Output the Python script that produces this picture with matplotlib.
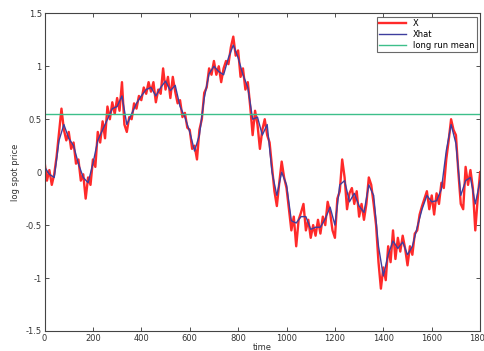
import numpy as np
import matplotlib
matplotlib.use("Agg")
from matplotlib import pyplot as plt

#------------------------------------------------------------------------------------------------
# observed log spot price, sampled every 10 time steps
t_x = list(range(0, 1801, 10))
X = [0.10, -0.08, 0.02, -0.12, -0.02, 0.15, 0.38, 0.60, 0.40, 0.30,
     0.38, 0.22, 0.28, 0.08, 0.12, -0.08, -0.02, -0.25, -0.05, -0.12,
     0.12, 0.05, 0.38, 0.28, 0.48, 0.32, 0.62, 0.50, 0.66, 0.55,
     0.70, 0.58, 0.85, 0.45, 0.38, 0.52, 0.50, 0.65, 0.60, 0.72,
     0.68, 0.80, 0.74, 0.85, 0.76, 0.85, 0.66, 0.78, 0.74, 0.98,
     0.78, 0.90, 0.70, 0.90, 0.76, 0.65, 0.68, 0.52, 0.56, 0.42,
     0.40, 0.22, 0.25, 0.12, 0.40, 0.50, 0.75, 0.80, 0.98, 0.92,
     1.05, 0.92, 1.00, 0.85, 0.98, 1.05, 1.02, 1.18, 1.28, 1.10,
     1.15, 0.90, 0.98, 0.78, 0.85, 0.62, 0.35, 0.58, 0.45, 0.22,
     0.40, 0.50, 0.35, 0.28, 0.05, -0.18, -0.32, -0.10, 0.10, -0.05,
     -0.15, -0.35, -0.55, -0.42, -0.70, -0.45, -0.38, -0.30, -0.55, -0.45,
     -0.62, -0.50, -0.60, -0.45, -0.58, -0.42, -0.50, -0.28, -0.38, -0.55,
     -0.62, -0.25, -0.18, 0.12, -0.05, -0.35, -0.20, -0.15, -0.30, -0.18,
     -0.42, -0.30, -0.45, -0.30, -0.05, -0.12, -0.30, -0.50, -0.85, -1.10,
     -0.90, -1.02, -0.70, -0.85, -0.55, -0.82, -0.62, -0.75, -0.60, -0.72,
     -0.88, -0.70, -0.78, -0.58, -0.55, -0.40, -0.32, -0.25, -0.18, -0.35,
     -0.22, -0.40, -0.20, -0.30, -0.10, -0.15, 0.12, 0.30, 0.50, 0.40,
     0.35, 0.00, -0.30, -0.35, 0.05, -0.12, 0.02, -0.15, -0.55, -0.25,
     0.00]

# filtered estimate, every 20 time steps
t_hat = list(range(0, 1801, 20))
Xhat = [0.05, -0.02, -0.05, 0.30, 0.45, 0.32, 0.25, 0.08, -0.05, -0.10,
        0.08, 0.30, 0.40, 0.50, 0.60, 0.62, 0.72, 0.45, 0.55, 0.65,
        0.72, 0.78, 0.80, 0.72, 0.80, 0.86, 0.77, 0.82, 0.62, 0.52,
        0.38, 0.20, 0.35, 0.70, 0.93, 1.00, 0.95, 0.92, 1.08, 1.20,
        1.08, 0.92, 0.80, 0.50, 0.52, 0.35, 0.45, 0.00, -0.22, 0.00,
        -0.12, -0.46, -0.48, -0.42, -0.42, -0.54, -0.52, -0.52, -0.44, -0.33,
        -0.50, -0.12, -0.08, -0.28, -0.20, -0.32, -0.38, -0.12, -0.22, -0.70,
        -0.98, -0.78, -0.65, -0.72, -0.66, -0.78, -0.70, -0.52, -0.35, -0.22,
        -0.28, -0.27, -0.16, 0.20, 0.45, 0.27, -0.22, -0.08, -0.05, -0.30,
        -0.08]

long_run_mean = 0.55

#------------------------------------------------------------------------------------------------
plt.rcParams['font.family'] = ['DejaVu Sans']
fig = plt.figure(figsize=(4.84, 3.51), dpi=100)
ax = fig.add_axes([0.092, 0.057, 0.900, 0.905])

ax.plot(t_x, X, color="#ff2a2a", lw=1.7, label="X")
ax.plot(t_hat, Xhat, color="#3e3e9e", lw=1.0, label="Xhat")
ax.axhline(long_run_mean, color="#3dbf8a", lw=1.0, label="long run mean")

ax.set_xlim(0, 1800)
ax.set_ylim(-1.5, 1.5)
ax.set_xticks(np.arange(0, 1801, 200))
ax.set_yticks([-1.5, -1, -0.5, 0, 0.5, 1, 1.5])
ax.set_yticklabels(["-1.5", "-1", "-0.5", "0", "0.5", "1", "1.5"])
ax.tick_params(direction="in", top=True, right=True, labelsize=6, length=3,
               width=0.6, colors="#333333", pad=2)
for s in ax.spines.values():
	s.set_linewidth(0.8)
	s.set_color("#444444")

ax.set_xlabel("time", fontsize=6, labelpad=0, color="#333333")
ax.set_ylabel("log spot price", fontsize=6, labelpad=4, color="#333333")

leg = ax.legend(loc="upper right", fontsize=6, frameon=True, fancybox=False,
                borderpad=0.3, handlelength=3.2, labelspacing=0.2,
                borderaxespad=0.4)
leg.get_frame().set_edgecolor("#444444")
leg.get_frame().set_linewidth(0.8)

fig.savefig("out.png", dpi=100)
